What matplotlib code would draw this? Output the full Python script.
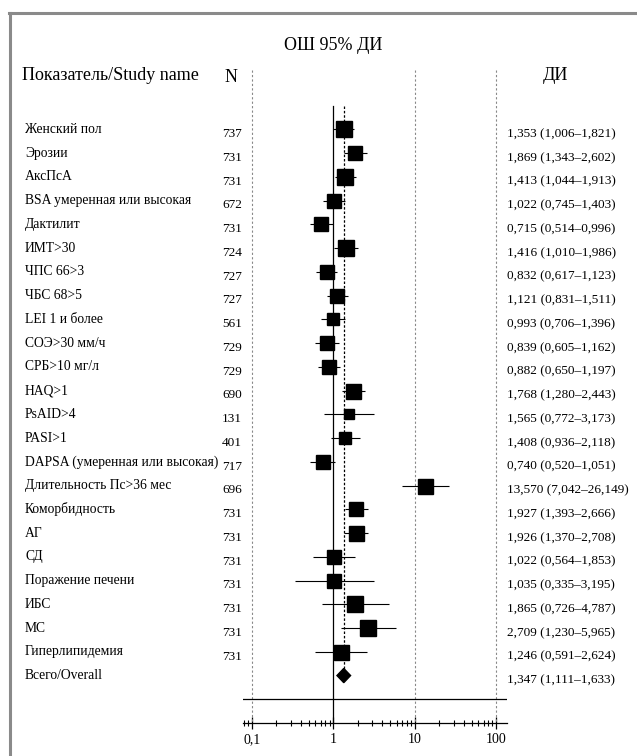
import matplotlib
matplotlib.use("Agg")
import matplotlib.pyplot as plt
import matplotlib.transforms as mtransforms
from matplotlib.lines import Line2D
import numpy as np

plt.rcParams["font.family"] = ["Liberation Serif", "DejaVu Serif"]

## data
names = [
    "Женский пол", "Эрозии", "АксПсА", "BSA умеренная или высокая", "Дактилит",
    "ИМТ>30", "ЧПС 66>3", "ЧБС 68>5", "LEI 1 и более", "СОЭ>30 мм/ч",
    "СРБ>10 мг/л", "HAQ>1", "PsAID>4", "PASI>1", "DAPSA (умеренная или высокая)",
    "Длительность Пс>36 мес", "Коморбидность", "АГ", "СД", "Поражение печени",
    "ИБС", "МС", "Гиперлипидемия",
]
nPat = [737, 731, 731, 672, 731, 724, 727, 727, 561, 729, 729, 690, 131, 401,
        717, 696, 731, 731, 731, 731, 731, 731, 731]
orVal = [1.353, 1.869, 1.413, 1.022, 0.715, 1.416, 0.832, 1.121, 0.993, 0.839,
         0.882, 1.768, 1.565, 1.408, 0.740, 13.570, 1.927, 1.926, 1.022, 1.035,
         1.865, 2.709, 1.246]
ciLow = [1.006, 1.343, 1.044, 0.745, 0.514, 1.010, 0.617, 0.831, 0.706, 0.605,
         0.650, 1.280, 0.772, 0.936, 0.520, 7.042, 1.393, 1.370, 0.564, 0.335,
         0.726, 1.230, 0.591]
ciHigh = [1.821, 2.602, 1.913, 1.403, 0.996, 1.986, 1.123, 1.511, 1.396, 1.162,
          1.197, 2.443, 3.173, 2.118, 1.051, 26.149, 2.666, 2.708, 1.853, 3.195,
          4.787, 5.965, 2.624]
## relative study weight -> box size (px)
boxPx = [15.5, 14.5, 15.5, 13.5, 13.5, 15.5, 14.5, 14.5, 12.5, 13.5, 13.5, 15,
         9.5, 11.5, 14, 15, 14.5, 15, 14.5, 13.5, 15.5, 15.5, 15]
overall = [1.347, 1.111, 1.633]
xTicks = [0.1, 1, 10, 100]
xTickLabels = ["0,1", "1", "10", "100"]


def fmt(v):
    return ("%.3f" % v).replace(".", ",")


W, H = 637, 756
fig = plt.figure(figsize=(W / 100.0, H / 100.0), dpi=100)

## rows: row r centred at pixel 129.3 + 23.75*r
rowPx0, rowStep = 129.3, 23.75
yTop, yBot = -2.6, 25
axTopPx = rowPx0 + yTop * rowStep
axBotPx = rowPx0 + yBot * rowStep
axL, axR = 243.0, 507.0
ax = fig.add_axes([axL / W, 1 - axBotPx / H, (axR - axL) / W, (axBotPx - axTopPx) / H])
ax.set_xscale("log")
ax.set_xlim(0.078, 136)
ax.set_ylim(yBot, yTop)

for s in ["top", "left", "right"]:
    ax.spines[s].set_visible(False)
ax.spines["bottom"].set_linewidth(0.9)
ax.set_yticks([])
ax.set_xticks(xTicks)
ax.set_xticklabels(xTickLabels, fontsize=10)
ax.xaxis.set_minor_locator(matplotlib.ticker.LogLocator(base=10, subs=np.arange(2, 10)))
ax.xaxis.set_minor_formatter(matplotlib.ticker.NullFormatter())
ax.tick_params(axis="x", which="major", direction="inout", length=8, width=0.9, pad=3)
ax.tick_params(axis="x", which="minor", direction="inout", length=4, width=0.8)
ax.patch.set_visible(False)

## reference lines
for v in [0.1, 10, 100]:
    ax.plot([v, v], [-2.5, yBot], ls=(0, (2, 2)), color="#888888", lw=0.8, clip_on=False)
ax.plot([1, 1], [-1, yBot], color="black", lw=0.9, clip_on=False)
ax.plot([overall[0], overall[0]], [-1, len(names)], ls=(0, (2, 1.5)), color="black", lw=0.9)
ax.axhline(24, color="black", lw=0.9)

rows = np.arange(len(names))
ax.hlines(rows, ciLow, ciHigh, color="black", lw=0.8, zorder=3)
for r in rows:
    ax.plot(orVal[r], r, marker="s", ms=boxPx[r] * 0.72, color="black", mec="black", zorder=4)

## overall diamond
dr = len(names)
ax.fill([overall[1], overall[0], overall[2], overall[0]],
        [dr, dr - 0.3, dr, dr + 0.3], color="black", zorder=4)

## text columns
tr = mtransforms.blended_transform_factory(fig.transFigure, ax.transData)
fsName, fsNum = 9.8, 9.5
allNames = names + ["Всего/Overall"]
for r, nm in enumerate(allNames):
    ax.text(25.0 / W, r, nm, transform=tr, fontsize=fsName, ha="left", va="center")
for r, n in enumerate(nPat):
    ax.text(242.0 / W, r + 0.2, str(n), transform=tr, fontsize=fsNum, ha="right", va="center")
ciText = ["%s (%s\u2013%s)" % (fmt(a), fmt(b), fmt(c)) for a, b, c in zip(orVal, ciLow, ciHigh)]
ciText.append("%s (%s\u2013%s)" % (fmt(overall[0]), fmt(overall[1]), fmt(overall[2])))
for r, t in enumerate(ciText):
    ax.text(507.0 / W, r + 0.2, t, transform=tr, fontsize=fsNum, ha="left", va="center")

## headers
fsHead = 13
fig.text(333.0 / W, 1 - 45.0 / H, "ОШ 95% ДИ", fontsize=fsHead, ha="center", va="center")
fig.text(22.0 / W, 1 - 75.0 / H, "Показатель/Study name", fontsize=fsHead, ha="left", va="center")
fig.text(231.0 / W, 1 - 78.0 / H, "N", fontsize=fsHead, ha="center", va="center")
fig.text(555.0 / W, 1 - 76.0 / H, "ДИ", fontsize=fsHead, ha="center", va="center")

## frame (only top and left edges visible)
fig.add_artist(Line2D([9.5 / W, 9.5 / W], [0, 1 - 13.0 / H], color="#8a8a8a", lw=2.2,
                      transform=fig.transFigure))
fig.add_artist(Line2D([8.5 / W, 1], [1 - 13.0 / H, 1 - 13.0 / H], color="#8a8a8a", lw=2.2,
                      transform=fig.transFigure))

fig.savefig("out.png", dpi=100)
